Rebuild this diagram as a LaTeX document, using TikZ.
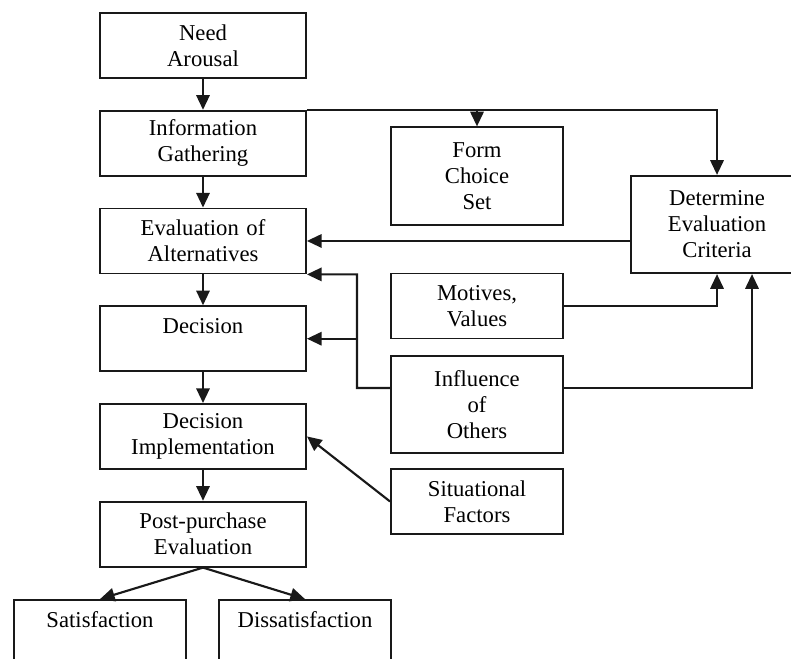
\documentclass[tikz,border=0pt]{standalone}
\usepackage{fontspec}
\setmainfont{Liberation Serif}
\usetikzlibrary{arrows.meta}
\tikzstyle{stage} = [rectangle, minimum width=154.5pt, minimum height=48.75pt, text width=150pt, inner sep=2pt, text centered, draw=black!90, line width=1.4pt]
\tikzstyle{factor} = [rectangle, minimum width=129pt, minimum height=48.75pt, text width=124pt, inner sep=2pt, text centered, draw=black!90, line width=1.4pt]
\tikzstyle{tall} = [minimum height=73pt]
\tikzstyle{arrow} = [line width=1.6pt, draw=black!90, ->, >={Triangle[length=11pt,width=10pt]}]

\begin{document}
\begin{tikzpicture}[x=0.75pt, y=-0.75pt, node distance=73.3pt, font=\fontsize{17}{19.5}\selectfont]
		\useasboundingbox (0,0) rectangle (791,659);
		\clip (0,0) rectangle (791,659);
		\node [stage] at (203,45.5) 		(need) 		{Need\\Arousal};
		\node [stage, below of=need] 		(info) 		{Information\\Gathering};
		\node [stage, below of=info] 		(eval) 		{Evaluation of\\Alternatives};
		\node [stage, below of=eval] 		(decision) 	{Decision\\~};
		\node [stage, below of=decision] 	(impl) 		{Decision\\Implementation};
		\node [stage, below of=impl] 		(post) 		{Post-purchase\\Evaluation};
		\node [factor] at (100,632.5) 		(sat) 		{Satisfaction\\~};
		\node [factor] at (305,632.5) 		(dissat) 	{Dissatisfaction\\~};
		\node [factor, tall] at (477,176) 	(form) 		{Form\\Choice\\Set};
		\node [factor, tall] at (717,224.5) (crit) 		{Determine\\Evaluation\\Criteria};
		\node [factor] at (477,306) 		(motive) 	{Motives,\\Values};
		\node [factor, tall] at (477,404.5) (infl) 		{Influence\\of\\Others};
		\node [factor] at (477,501.5) 		(situ) 		{Situational\\Factors};
		\coordinate (bus) at (357,388);

		\draw [arrow] (need) -- (info);
		\draw [arrow] (info) -- (eval);
		\draw [arrow] (eval) -- (decision);
		\draw [arrow] (decision) -- (impl);
		\draw [arrow] (impl) -- (post);
		\draw [arrow] (post.south) -- (sat.north);
		\draw [arrow] (post.south) -- (dissat.north);
		\draw [arrow] (info.north east) -| (crit.north);
		\draw [arrow] (info.north -| form) -- (form);
		\draw [arrow] (crit.west |- eval) -- (eval);
		\draw [arrow] (motive) -| (crit.south);
		\draw [arrow] ([yshift=12.4pt]infl.east) -| ([xshift=26.25pt]crit.south);
		\draw [arrow] ([yshift=12.4pt]infl.west) -- (bus) |- (eval.south east);
		\draw [arrow] (bus |- decision) -- (decision);
		\draw [arrow] (situ.west) -- (impl.east);
	\end{tikzpicture}
\end{document}
